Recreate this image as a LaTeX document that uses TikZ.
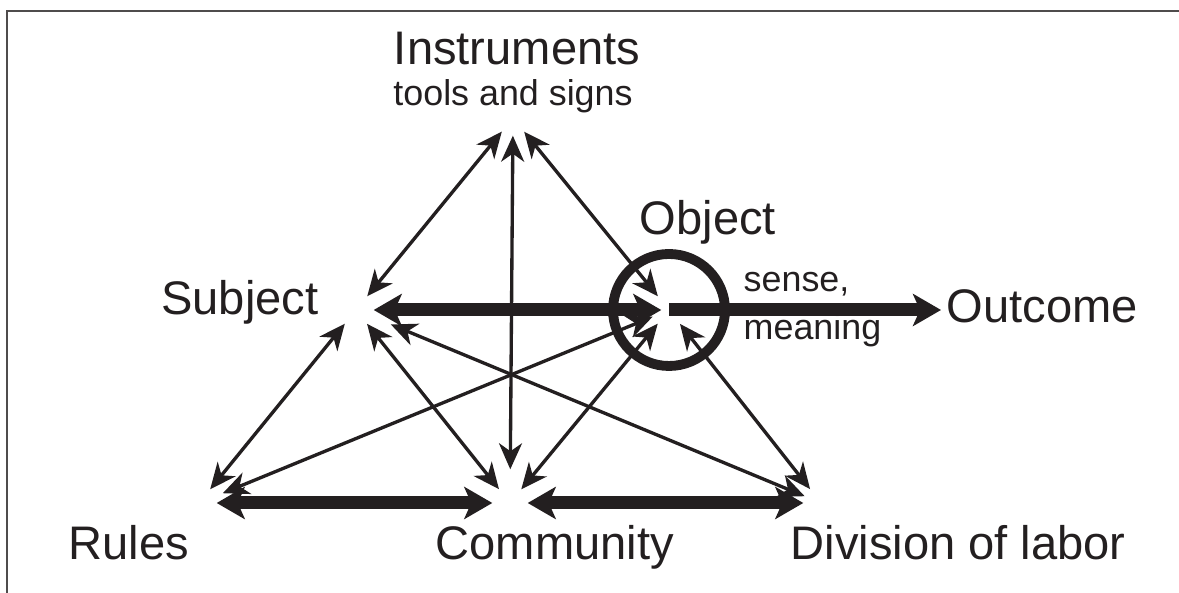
\documentclass[tikz,border=0pt]{standalone}
\usepackage{fontspec}
\setmainfont{Liberation Sans}
\usetikzlibrary{arrows.meta}
\definecolor{ink}{RGB}{35,31,32}
\tikzset{
  vertex/.style={circle, inner sep=0pt, minimum size=0.34cm},
  thinlink/.style={draw=ink, line width=0.95pt,
    {Stealth[length=2.6mm,width=2.3mm,inset=0.8mm]}-{Stealth[length=2.6mm,width=2.3mm,inset=0.8mm]}},
  thicklink/.style={draw=ink, line width=3.7pt,
    {Stealth[length=2.8mm,width=3.2mm,inset=0.7mm]}-{Stealth[length=2.8mm,width=3.2mm,inset=0.7mm]}},
  biglabel/.style={text=ink, inner sep=0pt, font=\fontsize{13.4}{15}\selectfont},
  smalllabel/.style={text=ink, inner sep=0pt, font=\fontsize{10.2}{12}\selectfont}
}

\begin{document}
\begin{tikzpicture}

    \useasboundingbox (0,0) rectangle (11.79,5.93);
    \draw[ink!80, line width=0.7pt] (0.07,0) -- (0.07,5.82) -- (11.79,5.82);

    % Corner points
    \node[vertex] (I) at (5.13,4.75) {};
    \node[vertex] (S) at (3.56,2.83) {};
    \node[vertex] (O) at (6.69,2.83) {};
    \node[vertex] (R) at (1.99,0.90) {};
    \node[vertex] (C) at (5.10,0.90) {};
    \node[vertex] (D) at (8.21,0.90) {};

    % Labels
    \node[biglabel, anchor=base] (instr) at (5.17,5.28) {Instruments};
    \node[smalllabel, anchor=base] (tools) at (5.13,4.87) {tools and signs};
    \node[biglabel, anchor=base east] (subj) at (3.19,2.78) {Subject};
    \node[biglabel, anchor=base west] (obj) at (6.39,3.58) {Object};
    \node[smalllabel, anchor=base west] (sense) at (7.43,3.01) {sense,};
    \node[smalllabel, anchor=base west] (mean) at (7.43,2.53) {meaning};
    \node[biglabel, anchor=base west] (outc) at (9.46,2.70) {Outcome};
    \node[biglabel, anchor=base west] (rules) at (0.68,0.33) {Rules};
    \node[biglabel, anchor=base west] (comm) at (4.35,0.33) {Community};
    \node[biglabel, anchor=base west] (divi) at (7.90,0.33) {Division of labor};

    % Circle round the object
    \draw[ink, line width=2.8pt] (O.center) circle (0.56);

    % Thin links
    \draw[thinlink] (I) -- (S);
    \draw[thinlink, shorten >=0.16cm] (I) -- (C);
    \draw[thinlink] (I) -- (O);
    \draw[thinlink] (O) -- (D);
    \draw[thinlink] (S) -- (R);
    \draw[thinlink] (S) -- (C);
    \draw[thinlink, shorten <=0.2cm] (S) -- (D);
    \draw[thinlink, shorten >=0.08cm] (O) -- (R);
    \draw[thinlink] (O) -- (C);

    % Thick links
    \draw[thicklink, shorten >=-0.1cm] (S) -- (O);
    \draw[thicklink] (R) -- (C);
    \draw[thicklink] (C) -- (D);
    \draw[thicklink, -{Stealth[length=2.8mm,width=3.2mm,inset=0.7mm]}, shorten >=0.05cm] (O.center) -- (O.center -| outc.west);

\end{tikzpicture}
\end{document}
